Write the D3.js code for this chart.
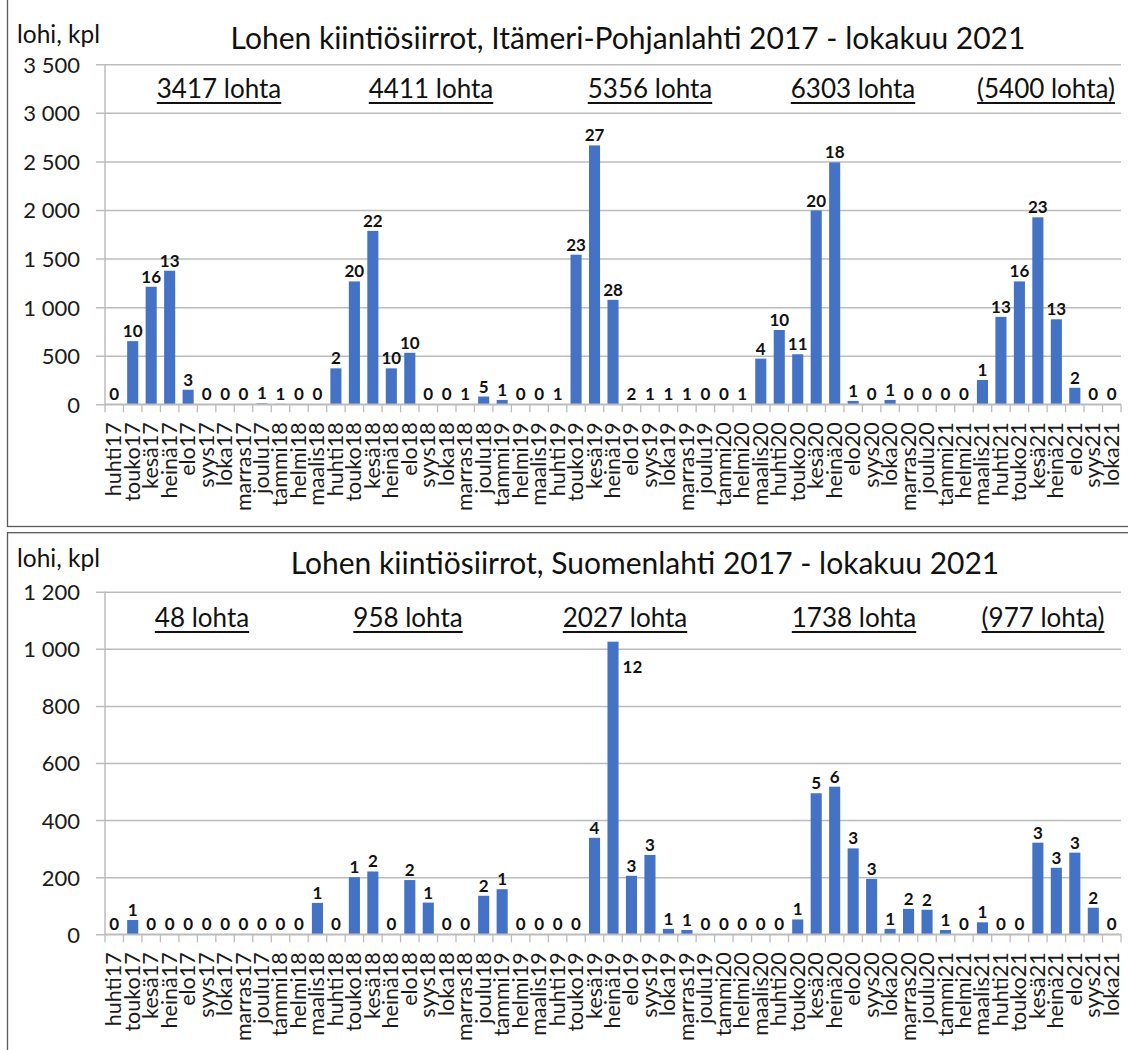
<!DOCTYPE html>
<html>
<head>
<meta charset="utf-8">
<script src="https://cdn.jsdelivr.net/npm/d3@7"></script>
<style>
  html, body { margin: 0; padding: 0; background: #fff; }
  svg { display: block; font-family: Lato, "Open Sans", sans-serif; }
</style>
</head>
<body>
<svg id="chart" width="1128" height="1050"></svg>
<script>
// ---------- DATA ----------
const categories = [
  "huhti17","touko17","kesä17","heinä17","elo17","syys17","loka17","marras17","joulu17",
  "tammi18","helmi18","maalis18","huhti18","touko18","kesä18","heinä18","elo18","syys18","loka18","marras18","joulu18",
  "tammi19","helmi19","maalis19","huhti19","touko19","kesä19","heinä19","elo19","syys19","loka19","marras19","joulu19",
  "tammi20","helmi20","maalis20","huhti20","touko20","kesä20","heinä20","elo20","syys20","loka20","marras20","joulu20",
  "tammi21","helmi21","maalis21","huhti21","touko21","kesä21","heinä21","elo21","syys21","loka21"
];

// Itämeri-Pohjanlahti: transferred salmon (pcs) per month
const topValues = [
  0, 650, 1210, 1375, 150, 0, 0, 0, 10,
  5, 0, 0, 370, 1265, 1785, 370, 530, 0, 0, 3, 80,
  45, 0, 0, 3, 1540, 2665, 1075, 5, 3, 3, 3, 0,
  0, 3, 470, 765, 515, 1995, 2490, 35, 0, 45, 0, 0,
  0, 0, 250, 900, 1265, 1925, 875, 170, 0, 0
];
// number of transfers per month (data labels)
const topLabels = [
  0, 10, 16, 13, 3, 0, 0, 0, 1,
  1, 0, 0, 2, 20, 22, 10, 10, 0, 0, 1, 5,
  1, 0, 0, 1, 23, 27, 28, 2, 1, 1, 1, 0,
  0, 1, 4, 10, 11, 20, 18, 1, 0, 1, 0, 0,
  0, 0, 1, 13, 16, 23, 13, 2, 0, 0
];

// Suomenlahti
const bottomValues = [
  0, 50, 0, 0, 0, 0, 0, 0, 0,
  0, 0, 110, 0, 200, 220, 0, 190, 111, 0, 0, 135,
  158, 0, 0, 0, 0, 338, 1025, 205, 278, 19, 15, 0,
  0, 0, 0, 0, 52, 494, 517, 301, 194, 19, 89, 86,
  15, 0, 42, 0, 0, 321, 233, 286, 93, 0
];
const bottomLabels = [
  0, 1, 0, 0, 0, 0, 0, 0, 0,
  0, 0, 1, 0, 1, 2, 0, 2, 1, 0, 0, 2,
  1, 0, 0, 0, 0, 4, 12, 3, 3, 1, 1, 0,
  0, 0, 0, 0, 1, 5, 6, 3, 3, 1, 2, 2,
  1, 0, 1, 0, 0, 3, 3, 3, 2, 0
];

const topTicks = [0, 500, 1000, 1500, 2000, 2500, 3000, 3500];
const bottomTicks = [0, 200, 400, 600, 800, 1000, 1200];

const topTitle = "Lohen kiintiösiirrot, Itämeri-Pohjanlahti 2017 - lokakuu 2021";
const bottomTitle = "Lohen kiintiösiirrot, Suomenlahti 2017 - lokakuu 2021";
const yAxisTitle = "lohi, kpl";

const topTotals = ["3417 lohta", "4411 lohta", "5356 lohta", "6303 lohta", "(5400 lohta)"];
const bottomTotals = ["48 lohta", "958 lohta", "2027 lohta", "1738 lohta", "(977 lohta)"];

// ---------- LAYOUT ----------
const svg = d3.select("#chart");
const fmt = d3.formatLocale({ decimal: ",", thousands: "\u00a0", grouping: [3], currency: ["", ""] }).format(",");

const panels = [
  {
    values: topValues, labels: topLabels, ticks: topTicks, title: topTitle, totals: topTotals,
    totalX: [219, 431, 650, 853, 1046],
    frame: { y0: -3, y1: 526.5 }, plotTop: 64.3, plotBottom: 404.3,
    titleX: 628, titleY: 49, yTitleY: 43, totalsY: 98
  },
  {
    values: bottomValues, labels: bottomLabels, ticks: bottomTicks, title: bottomTitle, totals: bottomTotals,
    totalX: [202, 408, 625, 854, 1043],
    frame: { y0: 532.7, y1: 1060 }, plotTop: 591.7, plotBottom: 934.3,
    titleX: 645, titleY: 574, yTitleY: 567, totalsY: 627
  }
];

const plotLeft = 105, plotRight = 1121;

panels.forEach(p => {
  const g = svg.append("g");

  // frame
  g.append("rect")
    .attr("x", 7.5).attr("y", p.frame.y0)
    .attr("width", 1140).attr("height", p.frame.y1 - p.frame.y0)
    .attr("fill", "none").attr("stroke", "#595959").attr("stroke-width", 1.3);

  const x = d3.scaleBand().domain(categories).range([plotLeft, plotRight]).paddingInner(0.4).paddingOuter(0.2);
  const xb = d3.scaleBand().domain(categories).range([plotLeft, plotRight]);
  const yMax = d3.max(p.ticks);
  const y = d3.scaleLinear().domain([d3.min(p.ticks), yMax]).range([p.plotBottom, p.plotTop]);

  // gridlines + y tick labels
  const yAxis = d3.axisLeft(y).tickValues(p.ticks).tickFormat(fmt)
    .tickSize(-(plotRight - plotLeft + 9)).tickPadding(16);
  const ya = g.append("g").attr("transform", `translate(${plotLeft - 9},0)`).call(yAxis);
  ya.select(".domain").remove();
  ya.selectAll(".tick line").attr("stroke", "#bcbcbc").attr("stroke-width", 1.5);
  ya.selectAll(".tick text").attr("font-size", 22).attr("fill", "#1a1a1a")
    .attr("font-family", "Lato, sans-serif").attr("dy", "0.36em");

  // vertical axis line
  g.append("line").attr("x1", plotLeft).attr("x2", plotLeft)
    .attr("y1", p.plotTop).attr("y2", p.plotBottom)
    .attr("stroke", "#bcbcbc").attr("stroke-width", 1.5);

  // bars
  g.append("g").selectAll("rect").data(p.values).join("rect")
    .attr("x", (d, i) => x(categories[i]))
    .attr("width", x.bandwidth())
    .attr("y", d => y(d))
    .attr("height", d => y(0) - y(d))
    .attr("fill", "#4472c4");

  // x axis with category-boundary ticks
  const xAxisG = g.append("g").attr("transform", `translate(0,${p.plotBottom})`);
  xAxisG.append("line").attr("x1", plotLeft).attr("x2", plotRight)
    .attr("stroke", "#bcbcbc").attr("stroke-width", 1.5);
  const bounds = categories.map(c => xb(c)).concat([plotRight]);
  xAxisG.selectAll("line.tk").data(bounds).join("line").attr("class", "tk")
    .attr("x1", d => d).attr("x2", d => d).attr("y1", 0).attr("y2", 8)
    .attr("stroke", "#bcbcbc").attr("stroke-width", 1.3);
  xAxisG.selectAll("text").data(categories).join("text")
    .attr("transform", d => `translate(${xb(d) + xb.bandwidth() / 2 + 7},18) rotate(-90)`)
    .attr("text-anchor", "end")
    .attr("font-size", 21.5).attr("fill", "#1a1a1a")
    .text(d => d);

  // data labels
  g.append("g").selectAll("text").data(p.values).join("text")
    .each(function (d, i) {
      const t = d3.select(this);
      const cx = x(categories[i]) + x.bandwidth() / 2;
      const top = y(d);
      if (d > 0.8 * yMax) {
        t.attr("x", x(categories[i]) + x.bandwidth() + 4).attr("y", top + 31).attr("text-anchor", "start");
      } else {
        t.attr("x", cx).attr("y", top - 4).attr("text-anchor", "middle");
      }
    })
    .attr("font-size", 17).attr("font-weight", "bold").attr("fill", "#111")
    .text((d, i) => p.labels[i]);

  // titles
  g.append("text").attr("x", p.titleX).attr("y", p.titleY).attr("text-anchor", "middle")
    .attr("font-size", 30).attr("fill", "#111").text(p.title);
  g.append("text").attr("x", 17).attr("y", p.yTitleY)
    .attr("font-size", 24.5).attr("fill", "#111").text(yAxisTitle);

  // yearly totals, underlined
  p.totals.forEach((t, i) => {
    const txt = g.append("text").attr("x", p.totalX[i]).attr("y", p.totalsY)
      .attr("text-anchor", "middle").attr("font-size", 26).attr("fill", "#111").text(t);
    const bb = txt.node().getBBox();
    g.append("line").attr("x1", bb.x).attr("x2", bb.x + bb.width)
      .attr("y1", p.totalsY + 5).attr("y2", p.totalsY + 5)
      .attr("stroke", "#111").attr("stroke-width", 1.8);
  });
});
</script>
</body>
</html>
